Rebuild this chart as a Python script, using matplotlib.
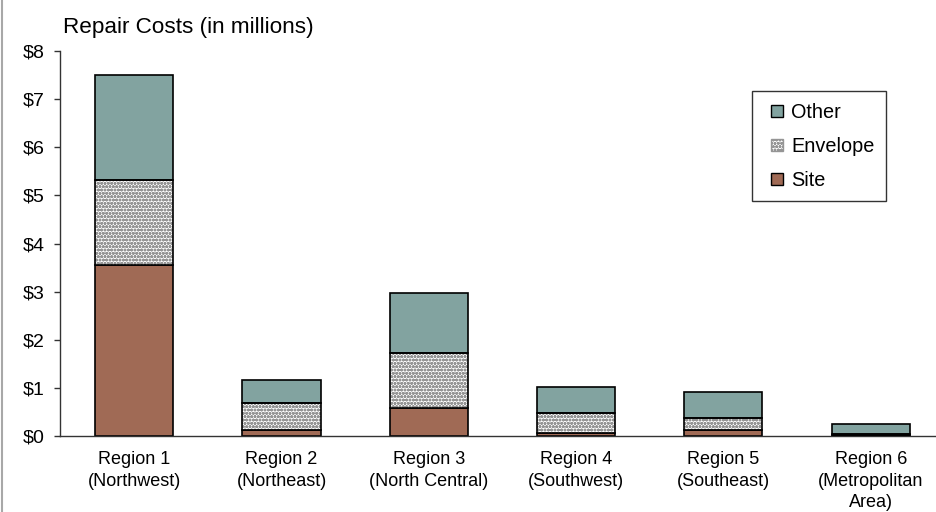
import matplotlib
matplotlib.use("Agg")
import matplotlib.pyplot as plt
from matplotlib.patches import Patch, Rectangle
from matplotlib.lines import Line2D
from matplotlib.legend_handler import HandlerPatch
import numpy as np

plt.rcParams['font.family'] = ['Liberation Sans', 'DejaVu Sans']

categories = ["Region 1\n(Northwest)", "Region 2\n(Northeast)", "Region 3\n(North Central)",
              "Region 4\n(Southwest)", "Region 5\n(Southeast)", "Region 6\n(Metropolitan\nArea)"]
site = [3.56, 0.13, 0.58, 0.06, 0.12, 0.03]
envelope = [1.76, 0.56, 1.15, 0.42, 0.25, 0.01]
other = [2.18, 0.47, 1.24, 0.54, 0.54, 0.20]
yticks = [0, 1, 2, 3, 4, 5, 6, 7, 8]
ytick_labels = ["$0", "$1", "$2", "$3", "$4", "$5", "$6", "$7", "$8"]

c_other = "#82A3A0"
c_site = "#A06A55"
hatch_col = "#959595"

fig = plt.figure(figsize=(9.37, 5.12), dpi=100)
ax = fig.add_axes([0.064, 0.1484, 0.936, 0.752])

x = np.arange(len(categories))
w = 0.53
site_a = np.array(site)
env_a = np.array(envelope)
oth_a = np.array(other)

ax.bar(x, site_a, w, color=c_site, edgecolor="black", linewidth=1.2, zorder=2)
# envelope: hatch layer then outline
ax.bar(x, env_a, w, bottom=site_a, color="white", edgecolor=hatch_col, hatch="ooooo",
       linewidth=0, zorder=2)
ax.bar(x, env_a, w, bottom=site_a, color="none", edgecolor="black", linewidth=1.2, zorder=3)
ax.bar(x, oth_a, w, bottom=site_a + env_a, color=c_other, edgecolor="black", linewidth=1.2, zorder=2)

ax.set_xlim(-0.504, 5.45)
ax.set_ylim(0, 8)
ax.set_yticks(yticks)
ax.set_yticklabels(ytick_labels, fontsize=14)
ax.set_xticks(x)
ax.set_xticklabels(categories, fontsize=13, linespacing=1.33)
ax.tick_params(axis='x', length=0, pad=11)
ax.tick_params(axis='y', length=4.3, width=1, color="#333333", pad=7)
for s in ["top", "right"]:
    ax.spines[s].set_visible(False)
ax.spines["left"].set_color("#333333")
ax.spines["bottom"].set_color("#333333")
ax.spines["left"].set_linewidth(1)
ax.spines["bottom"].set_linewidth(1)

fig.text(63 / 937, 1 - 28 / 512, "Repair Costs (in millions)", fontsize=16.2,
         ha="left", va="center")


def square_patch(legend, orig_handle, xdescent, ydescent, width, height, fontsize):
    s = 0.6 * fontsize
    return Rectangle((-xdescent + width - s, -ydescent + (height - s) / 2), s, s)


handles = [
    Patch(facecolor=c_other, edgecolor="black", linewidth=1, label="Other"),
    Patch(facecolor="white", edgecolor=hatch_col, hatch="ooooo", linewidth=1, label="Envelope"),
    Patch(facecolor=c_site, edgecolor="black", linewidth=1, label="Site"),
]
leg = ax.legend(handles=handles, loc="upper left",
                bbox_to_anchor=((752 - 60) / 877, 1 - (91 - 51) / 385),
                fontsize=14.3, frameon=True, fancybox=False, shadow=False,
                handlelength=1.0, handleheight=0.7, handletextpad=0.4,
                labelspacing=0.76, borderpad=0.58, borderaxespad=0,
                handler_map={Patch: HandlerPatch(patch_func=square_patch)})
leg.get_frame().set_edgecolor("black")
leg.get_frame().set_linewidth(1)

fig.add_artist(Line2D([2.5 / 937, 2.5 / 937], [0, 1], transform=fig.transFigure,
                      color="#a8a8a8", linewidth=1.5))

fig.savefig("out.png", dpi=100)
